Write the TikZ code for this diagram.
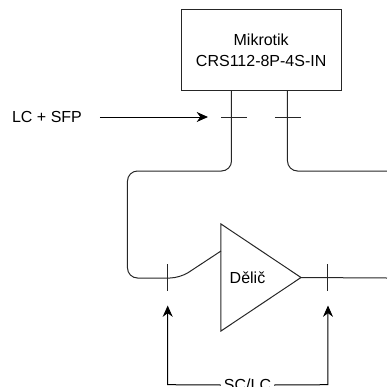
\documentclass[tikz,border=0pt]{standalone}
\usepackage{fontspec}
\setmainfont{Liberation Sans}
\usetikzlibrary{shapes.geometric, arrows.meta}

\begin{document}
\begin{tikzpicture}[x=0.75pt, y=-0.75pt, line width=0.75pt, >={Stealth[length=8.5pt, width=7.5pt]},
    label text/.style={font=\fontsize{12}{15.75}\selectfont},
    cable/.style={draw=black!85, rounded corners=7.5pt},
    tick/.style={draw=black!85},
    pointer/.style={->, draw=black}]
    \useasboundingbox (0,0) rectangle (387,387);
    % switch and splitter
    \node[draw=black!85, label text, minimum width=120pt, minimum height=60.5pt, inner sep=0pt, align=center] (switch) at (261.2,50.3) {Mikrotik\\CRS112-8P-4S-IN};
    \node[draw=black!85, isosceles triangle, isosceles triangle stretches, shape border rotate=0, minimum width=80.25pt, minimum height=60pt, inner sep=0pt, outer sep=0pt, anchor=apex] (delic) at (301,277.5) {};
    \node[label text] (delictext) at (247.5,278) {Dělič};
    % free labels
    \node[label text] (lcsfp) at (47,117) {LC + SFP};
    \node[label text, inner sep=2pt] (sclc) at (247.5,385) {SC/LC};
    % end points
    \coordinate (lcstart) at (100,117);
    \coordinate (lcend) at (208,117);
    \coordinate (out1) at (231.5,90.6);
    \coordinate (out2) at (287.5,90.6);
    \coordinate (in) at (221,251);
    \coordinate (tipleft) at (167.7,305.5);
    \coordinate (tipright) at (328,305.5);
    \coordinate (tail) at (387,278);
    % cables
    \draw[cable] (out1) -- (231.5,171) -- (127.5,171) -- (127.5,278) -- (180,278) -- (in);
    \draw[cable] (out2) -- (287.5,171) -- (387,171);
    \draw[cable] (delic.apex) -- (tail);
    % ticks on cables
    \draw[tick] (221,117) -- (247.5,117);
    \draw[tick] (275,117) -- (301.5,117);
    \draw[tick] (167.7,264) -- (167.7,291);
    \draw[tick] (328,264) -- (328,291);
    % pointers
    \draw[pointer] (lcstart) -- (lcend);
    \draw[pointer] (sclc.west) -- (167.7,384.7) -- (tipleft);
    \draw[pointer] (sclc.east) -- (328,384.7) -- (tipright);
\end{tikzpicture}
\end{document}
